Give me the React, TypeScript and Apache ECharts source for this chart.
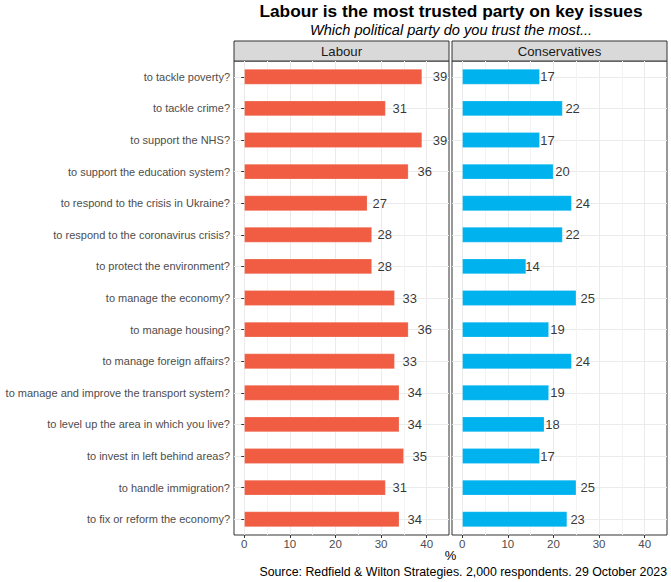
import React, { useEffect, useRef } from "react";
import * as echarts from "echarts";

const categories = [
  "to tackle poverty?",
  "to tackle crime?",
  "to support the NHS?",
  "to support the education system?",
  "to respond to the crisis in Ukraine?",
  "to respond to the coronavirus crisis?",
  "to protect the environment?",
  "to manage the economy?",
  "to manage housing?",
  "to manage foreign affairs?",
  "to manage and improve the transport system?",
  "to level up the area in which you live?",
  "to invest in left behind areas?",
  "to handle immigration?",
  "to fix or reform the economy?",
];
const labour = [39, 31, 39, 36, 27, 28, 28, 33, 36, 33, 34, 34, 35, 31, 34];
const conservatives = [17, 22, 17, 20, 24, 22, 14, 25, 19, 24, 19, 18, 17, 25, 23];
const panelNames = ["Labour", "Conservatives"];
const xMajorTicks = [0, 10, 20, 30, 40];
const xMinorTicks = [5, 15, 25, 35];

const FONT = "'Liberation Sans', Arial, Helvetica, sans-serif";
const RED = "#F05D43";
const BLUE = "#00B2EE";

export default function App() {
  const ref = useRef<HTMLDivElement>(null);
  useEffect(() => {
    document.body.style.margin = "0";
    if (!ref.current) return;
    const chart = echarts.init(ref.current, undefined, { renderer: "svg" });

    const panelLeft = [234, 452];
    const panelW = 215;
    const top = 61;
    const height = 474;
    const xMin = -2.25;
    const xMax = 44.9;

    const grids = panelLeft.map((l) => ({
      left: l,
      top,
      width: panelW,
      height,
      show: true,
      borderColor: "#333333",
      borderWidth: 1,
      backgroundColor: "transparent",
      containLabel: false,
    }));

    const xAxes: any[] = [];
    const yAxes: any[] = [];
    [0, 1].forEach((g) => {
      xAxes.push({
        type: "value",
        gridIndex: g,
        min: xMin,
        max: xMax,
        position: "bottom",
        axisLine: { show: false },
        axisTick: {
          show: true,
          length: 3,
          customValues: xMajorTicks,
          lineStyle: { color: "#333333", width: 1 },
        },
        axisLabel: {
          show: true,
          customValues: xMajorTicks,
          fontSize: 11.5,
          fontFamily: FONT,
          color: "#4D4D4D",
          margin: 3,
        },
        splitLine: { show: true, lineStyle: { color: "#EBEBEB", width: 1 } },
      });
      xAxes.push({
        type: "value",
        gridIndex: g,
        min: xMin,
        max: xMax,
        position: "top",
        axisLine: { show: false },
        axisTick: { show: false, customValues: xMinorTicks },
        axisLabel: { show: false, customValues: xMinorTicks },
        splitLine: { show: true, lineStyle: { color: "#F3F3F3", width: 1 } },
      });
      yAxes.push({
        type: "category",
        gridIndex: g,
        data: categories,
        inverse: true,
        axisLine: { show: false },
        axisTick: {
          show: g === 0,
          length: 3,
          alignWithLabel: true,
          lineStyle: { color: "#333333", width: 1 },
        },
        axisLabel: {
          show: g === 0,
          fontSize: 11,
          fontFamily: FONT,
          color: "#4D4D4D",
          margin: 4,
        },
        splitLine: {
          show: true,
          alignWithLabel: true,
          lineStyle: { color: "#EBEBEB", width: 1 },
        },
      });
    });

    const datasets = [labour, conservatives];
    const colors = [RED, BLUE];
    const series: any[] = [];
    datasets.forEach((vals, g) => {
      series.push({
        type: "bar",
        xAxisIndex: g * 2,
        yAxisIndex: g,
        data: vals,
        barWidth: "49%",
        itemStyle: {
          color: colors[g],
          borderColor: "rgba(255,255,255,0.35)",
          borderWidth: 0.6,
        },
        silent: true,
        z: 2,
      });
      series.push({
        type: "scatter",
        xAxisIndex: g * 2,
        yAxisIndex: g,
        data: vals.map((v, i) => [v * 1.1, categories[i]]),
        symbolSize: 0.1,
        itemStyle: { color: "rgba(0,0,0,0)" },
        silent: true,
        z: 3,
        label: {
          show: true,
          position: "inside",
          formatter: (p: any) => String(vals[p.dataIndex]),
          color: "#000000",
          fontSize: 13,
          fontFamily: FONT,
        },
      });
    });

    const graphics: any[] = [
      {
        type: "text",
        x: 451,
        y: 11,
        style: {
          text: "Labour is the most trusted party on key issues",
          fontSize: 17.3,
          fontWeight: "bold",
          fontFamily: FONT,
          fill: "#000000",
          align: "center",
          verticalAlign: "middle",
        },
      },
      {
        type: "text",
        x: 451,
        y: 29.5,
        style: {
          text: "Which political party do you trust the most...",
          fontSize: 14.6,
          fontStyle: "italic",
          fontFamily: FONT,
          fill: "#000000",
          align: "center",
          verticalAlign: "middle",
        },
      },
      {
        type: "text",
        x: 450.5,
        y: 555,
        style: {
          text: "%",
          fontSize: 13,
          fontFamily: FONT,
          fill: "#000000",
          align: "center",
          verticalAlign: "middle",
        },
      },
      {
        type: "text",
        x: 667,
        y: 571.5,
        style: {
          text: "Source: Redfield & Wilton Strategies. 2,000 respondents. 29 October 2023",
          fontSize: 12.35,
          fontFamily: FONT,
          fill: "#000000",
          align: "right",
          verticalAlign: "middle",
        },
      },
    ];
    panelLeft.forEach((l, i) => {
      graphics.push({
        type: "rect",
        shape: { x: l, y: 41, width: panelW, height: 20 },
        style: { fill: "#D9D9D9", stroke: "#333333", lineWidth: 1 },
      });
      graphics.push({
        type: "text",
        x: l + panelW / 2,
        y: 51,
        style: {
          text: panelNames[i],
          fontSize: 13.2,
          fontFamily: FONT,
          fill: "#1A1A1A",
          align: "center",
          verticalAlign: "middle",
        },
      });
    });

    chart.setOption({
      animation: false,
      backgroundColor: "#FFFFFF",
      grid: grids,
      xAxis: xAxes,
      yAxis: yAxes,
      series,
      graphic: graphics,
    });
    return () => chart.dispose();
  }, []);
  return <div ref={ref} style={{ width: 671, height: 582 }} />;
}
